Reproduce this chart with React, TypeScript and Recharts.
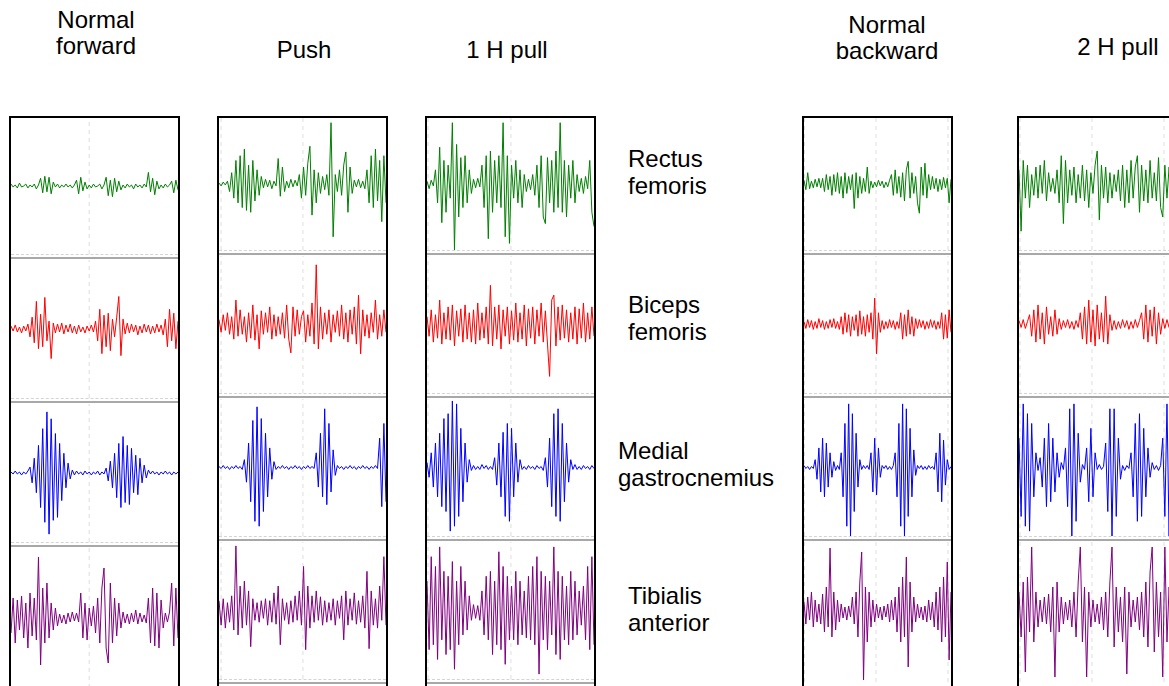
import React from 'react';
import { LineChart, Line, XAxis, YAxis, ReferenceLine } from 'recharts';

// Column titles (tasks) and row labels (muscles)
const taskTitles: string[][] = [['Normal', 'forward'], ['Push'], ['1 H pull'], ['Normal', 'backward'], ['2 H pull']];
const muscleLabels: string[][] = [['Rectus', 'femoris'], ['Biceps', 'femoris'], ['Medial', 'gastrocnemius'], ['Tibialis', 'anterior']];
const muscleColors: string[] = ['#008000', '#ff0000', '#0000ff', '#800080'];

// EMG traces (arbitrary amplitude units), 80 samples per panel
const forwardRectus = [2,-1,1,-2,3,-1,0,2,-2,1,-1,2,-3,1, 8,-7,10,-6,9,-8,4, -1,2,-2,1,-1,2,-1,1,-2,1, 6,-8,9,-5,4,-3, 1,-2,2,-1,0,2,-3,1, 9,-10,6,-11,8,-6,5,-4, 1,-2,2,-1,1,-3,2,-1,1,-2,2,-1, 14,-6,8,-9,5,-3, 1,-2,2,-1,1, 5,-7,6,-4];
const forwardBiceps = [3,-2,4,-3,2,-4,3,-2,5, -8,12,-14,28,-20,15,-18,32,-12,8,-30,6, -4,5,-3,6,-5,4,-3,5,-4,3,-5,4,-3,2,-4,3,-2,4,-3, 8,-12,20,-25,14,-18,16,-22,10,-8,12,33,-27,10, -5,6,-4,5,-3,4,-6,3,-4,5,-3,4,-5,3,-4,5,-3,4,-6, 10,-18,20,-12,16,-20,8];
const forwardMedial = [1,-1,2,-1,1,-2,1,-1,2, 6,-10,15,-20,28,-35,45,-50,62,-62,55,-48,40,-45,30,-28,20,-15,10,-6, 3,-2,2,-1,1,-2,2,-1,1,-2,1,-1,2,-2,1,-1, 5,-8,12,-15,20,-25,30,-35,37,-30,28,-32,25,-20,18,-22,15,-10,8,-5,3, -1,2,-1,1,-2,1,-1,2,-1,1,-2,1,-1,1];
const forwardTibialis = [-15,20,-25,18,-12,22,-20,15,-30,25,-18,20,-22,61,-47,30,-25,35,-20,15,-12,10,-8, 4,-5,3,-6,5,-4,6,-3,5,-4, 25,-20,15,-22,10,-8,12,-15,20,-25,30,50,-30,-45,35,-25,20,-18,15,-10, 6,-5,4,-6,5,-4,8,-6,5,-4,3,-5, 20,-25,30,-28,25,-30,18,-10, 5,-4,6, 35,-28,30,-20];

const pushRectus = [1,-2,2,-1,3, -8,12,-15,25,-20,30,-25,37,-28,20,-30,25,-18,15,-12,8, -4,5,-3,4,-5,3,-2, 27,-13,18,-8, 3,-4,5,-3,4,-2, 10,-15,18,-12,22,40,-33,15,-20,12,-10, 8,-6,10,-12, 65,-56, 10,-8,15,-12,20,34,-30,18,-10, 4,-3,5,-4,3,-5, 15,-20,30,-25,37,-18,25,-40,30,-20];
const pushBiceps = [5,-8,10,-6,12,-10,8,-15,25,-12, 15,-10,8,-18,12,-14,20,-16,10,-25, 14,-10,12,-8,18,-15,10,-12,8,-10, 12,-14,20,-15,-29,18,-12,15,-10,8, 14,-18,10,-12,22,-20,61,-25,18,-15, 12,-10,15,-18,10,-8,14,-12,20,-15, 12,-18,15,-10,18,-20,30,-30,15,-12, 10,-14,12,-8,25,-15,10,-12,15,-8];
const pushMedial = [1,-1,2,-1,1,-2,1,-1,2,-1,1,-2, 8,-15,25,-35,48,-55,62,-60,50,-45,35,-30,20,-12,6, -2,1,-1,2,-1,1,-2,1,-1,2,-1,1,-2,1,-1,2,-1,1,-1, 15,-20,35,-30,60,-38,45,-25,18,-8, 2,-1,1,-2,1,-1,2,-1,1,-2,1,-1,2,-1,1,-2,1,-1,2,-1, 30,-40,45,-35];
const pushTibialis = [10,-15,12,-18,8,-12,15,-20,66,-25, 25,-18,30,-15,20,-37,12,-10,8,-12, 10,-8,12,-15,10,-12,18,-14,25,-35, 12,-10,8,-14,10,-12,15,-10,20,-15, 45,-40,25,-18,15,-12,20,-10,14,-15, 10,-12,8,-10,12,-15,10,-8,15,-30, 20,-15,12,-10,18,-14,10,-12,15,-18, 40,-39,20,-15,12,-18,25,-10,55,-15];

const pull1Rectus = [3,-5,4,-2, 15,-20,39,-41,25,-30,20,-15,65,-70, 42,-35,28,-25,30,-20,15,-10, 5,-4,6,-3, 20,-25,30,-58,35,-30,25,-20,30,-25, 65,-56,30,-63,20, -15,25,-20,15,-25,10,-8,5,-6,10,-12, 20,-25,30,-35,-42,28,-20,25,-30,35,-25,65,-30,25,-35,20,-15,25,-20,10, -8,6,-10,8,-5, 25,-30,-45];
const pull1Biceps = [8,-12,15,-18,10,-14,25,-20,12,-15, 18,-16,20,-22,14,-12,16,-18,20,-15, 12,-18,15,-20,22,-16,12,-14,18,-20, 40,-22,18,-15,20,-25,15,-12,18,-20, 14,-16,22,-18,12,-15,20,-22,16,-14, 18,-20,15,-12,22,-18,14,-20,-53,25, 30,-22,18,-16,20,-14,15,-18,12,-15, 18,-20,16,-14,22,-18,12,-15,18,-12];
const pull1Medial = [5,-10,15,-20,25,-30,35,-40,50,-45,55,-65,68,-60,65,-50,40,-35,25,-15,8, -3,2,-2,1,-2,3,-1,2,-2,1,-2, 10,-18,25,-30,36,-50,45,-55,40,-30,25,-15,8, -2,1,-2,2,-1,1,-2,2,-1,1,-3, 10,-20,30,-40,55,-50,60,-55,45,-35,25,-15,8, -2,3,-2,1,-2,2,-1,1,-2,2,-1];
const pull1Tibialis = [30,-40,55,-35,45,-50,65,-30,40,-45, 35,-40,50,-60,30,-35,45,-25,30,-20, 15,-10,6,-8,5,-10,20,-25,35,-30, 40,-45,30,-35,60,-40,45,-55,35,-30, 25,-30,40,-35,30,-25,20,-28,35,-30, 45,-35,55,-65,40,-30,35,-40,30,-25, 65,-45,40,-50,35,-30,25,-35,40,-30, 30,-25,20,-15,25,-30,45,-40,55,-35];

const backwardRectus = [4,-6,12,-5,3,-4,5,-3,6,-4, 6,-8,10,-6,8,-12,10,-8,12,-10,8,-15,12,-10,8,-6,10,-26,12,-15,8,-10,6,-8,18,-10, 3,-4,2,-3,4,-2,3,-4,2,-3,4, 10,-12,15,-10,8,-14,12,-18,15,24,-15,12,-10,8,-20,-31,18,-12,22,-15,10, -6,8,-5,6,-8,5,-6,7,-4,6,-20,5];
const backwardBiceps = [3,-4,5,-3,4,-5,3,-4,6,-3,4,-5,3,-4,5,-3,6,-4,3,-5, 8,-10,12,-8,10,-12,8,-6,10,-12,14,-10,8,-12,10,-8,12,-15,27,-30,12,-8, 4,-5,3,-4,5,-3,4,-5,3,-4, 12,-15,10,-12,15,-10,8,-12,6, -4,5,-3,4,-5,3,-4,5,-3,4,-5,3,-4, 12,-15,10,-14,15,-8];
const backwardMedial = [2,-1,1,-2,1,-1, 8,-12,20,-25,30,-30,25,-20,15,-10,6,-3, 2,-2, 15,-30,45,-60,65,-70,55,-45,35,-20,8, -2,2,-1,2,-2, 15,-25,30,-28,20,-10, 2,-1,2,-2,1,-2,2, 15,-30,45,-60,65,-70,60,-50,40,-30,18,-8, 2,-1,2,-2,1,-2,2,-1,1,-2, 15,-25,35,-35,28,-18,8, -2,1];
const backwardTibialis = [10,-12,15,-8,20,-15,12,-10,8,-12, 18,-20,25,-15,64,-25,20,-18,12,-10, 8,-6,5,-8,6,-5,15,-12,20,-25, 30,60,-68,25,-30,20,-15,12,-10,8, -6,5,-8,6,-5,8,-10,12,-8,15, -20,25,-30,35,-25,55,-55,30,-20,15, -10,8,-6,5,-8,6,-10,12,-8,10, -15,20,-18,25,-30,35,-25,50,-48,20];

const pull2Rectus = [15,-50,25,-15,20,-25,10,-12,18,-15, 20,-10,25,-18,12,-8,6,-10,15,-20, 30,-42,25,-20,15,-12,18,-20,10,-15, 20,-18,15,-25,12,-10,20,35,-38,20, -15,18,-20,12,-15,10,-8,15,-18,20, -25,15,-20,25,-15,18,30,-30,20,-18, 15,-20,25,-15,12,-18,28,-25,-35,20, -15,18,-12,20,-15,12,-18,15,-10,12];
const pull2Biceps = [4,-3,5,-4,3, 10,-12,15,-18,20,-15,12,-20,18,-10,8,-12,15,-10,6,-5, 4,-3,5,-4,3,-5,4,-3, 12,-15,18,-20,25,-18,15,-22,20,-15,12,-18,29,-20,10,-6, 4,-5,3,-4,5,-3,4,-5,3,-4,5,-3,4, 12,-15,20,-18,15,-12,18,-20,12,-10,6, -4,5,-3,4,-5,3,-4,5,-3,4,-3];
const pull2Medial = [30,-50,65,-60,55,-65,45,-30,15, -3, 10,-20,30,-40,45,-35,30,-25,15,-10,5, -2, 20,-40,60,-70,65,-55,35,-15, 3,-2, 20,-35,40,-30,15, -2,3,-2,1, 25,-45,60,-70,60,-50,30,-12, 2,-3,2,-1, 15,-30,45,-55,55,-50,40,-30,20,-10,5, -2,2,-3,2, 30,-50,65,-70,55,-40,20, -5,3,-2,2,-1];
const pull2Tibialis = [20,-25,30,-60,35,-20,65,-30,20,-15, 12,-10,15,-12,18,-20,25,-65,30,-20, 15,-12,10,-8,12,-15,20,-25,30,65, -30,25,-65,20,-15,12,-10,8,-12,15, -18,20,-25,30,65,-35,25,-20,15,-30, 25,-62,20,-15,12,-10,15,-18,20,-25, 30,-35,40,65,-40,30,-25,20,-65,65, -30,25,-20,15,-12,10,-15,20,-18,12];

const columnTraces: number[][][] = [
  [forwardRectus, forwardBiceps, forwardMedial, forwardTibialis],
  [pushRectus, pushBiceps, pushMedial, pushTibialis],
  [pull1Rectus, pull1Biceps, pull1Medial, pull1Tibialis],
  [backwardRectus, backwardBiceps, backwardMedial, backwardTibialis],
  [pull2Rectus, pull2Biceps, pull2Medial, pull2Tibialis],
];

// layout of the five boxes
const columnsLayout = [
  { left: 9, width: 171, rowH: [142, 144, 144, 146], sepLast: false, grid: [37], titleX: 96, titleTop: 7 },
  { left: 217, width: 171, rowH: [138, 143, 143, 143], sepLast: true, grid: [1, 39.7], titleX: 304, titleTop: 37 },
  { left: 425, width: 171, rowH: [138, 143, 143, 143], sepLast: true, grid: [0.5, 39.7], titleX: 507, titleTop: 37 },
  { left: 802, width: 151, rowH: [138, 143, 143, 146], sepLast: false, grid: [0.3, 38.7, 77.4], titleX: 887, titleTop: 12 },
  { left: 1017, width: 171, rowH: [138, 143, 143, 146], sepLast: false, grid: [0.5, 34.5, 68.6], titleX: 1118, titleTop: 34 },
];

const labelLayout = [
  { left: 628, top: 145 },
  { left: 628, top: 291 },
  { left: 618, top: 437 },
  { left: 628, top: 582 },
];

const FONT = '"Liberation Sans", Arial, sans-serif';

function Trace({ values, color, width, height, grid }: { values: number[]; color: string; width: number; height: number; grid: number[] }) {
  const data = values.map((v, i) => ({ i, v }));
  return (
    <LineChart width={width} height={height} data={data} margin={{ top: 0, right: 0, bottom: 0, left: 0 }}>
      <XAxis dataKey="i" type="number" domain={[0, values.length - 1]} hide allowDataOverflow />
      <YAxis type="number" domain={[-70, 70]} hide allowDataOverflow />
      {grid.map((g) => (
        <ReferenceLine key={g} x={g} stroke="#dedede" strokeDasharray="4 4" strokeWidth={1} ifOverflow="extendDomain" />
      ))}
      <Line type="linear" dataKey="v" stroke={color} strokeWidth={1} dot={false} isAnimationActive={false} />
    </LineChart>
  );
}

function Separator() {
  return (
    <div style={{ position: 'relative', height: 6 }}>
      <div style={{ position: 'absolute', left: 0, right: 0, top: 0, borderTop: '1px dashed #d4d4d4' }} />
      <div style={{ position: 'absolute', left: 0, right: 0, top: 3, height: 2, background: '#a8a8a8' }} />
    </div>
  );
}

export default function App() {
  return (
    <div style={{ position: 'absolute', left: 0, top: 0, width: 1169, height: 686, overflow: 'hidden', background: '#fff', fontFamily: FONT }}>
      {columnsLayout.map((col, ci) => (
        <div key={'t' + ci} style={{ position: 'absolute', left: col.titleX - 100, width: 200, top: col.titleTop, textAlign: 'center', fontSize: 24, lineHeight: '26px', color: '#000' }}>
          {taskTitles[ci].map((t, k) => (<div key={k}>{t}</div>))}
        </div>
      ))}
      {muscleLabels.map((lab, ri) => (
        <div key={'m' + ri} style={{ position: 'absolute', left: labelLayout[ri].left, top: labelLayout[ri].top, fontSize: 24, lineHeight: '27px', color: '#000' }}>
          {lab.map((t, k) => (<div key={k}>{t}</div>))}
        </div>
      ))}
      {columnsLayout.map((col, ci) => (
        <div key={'c' + ci} style={{ position: 'absolute', left: col.left, top: 116, width: col.width, height: 600, border: '2px solid #000', borderBottom: 'none', boxSizing: 'border-box', overflow: 'hidden', background: '#fff' }}>
          {columnTraces[ci].map((vals, ri) => {
            const h = col.rowH[ri];
            const hasSep = ri < 3 || col.sepLast;
            return (
              <div key={ri} style={{ height: h }}>
                <Trace values={vals} color={muscleColors[ri]} width={col.width - 4} height={h - 6} grid={col.grid} />
                {hasSep && <Separator />}
              </div>
            );
          })}
        </div>
      ))}
    </div>
  );
}
